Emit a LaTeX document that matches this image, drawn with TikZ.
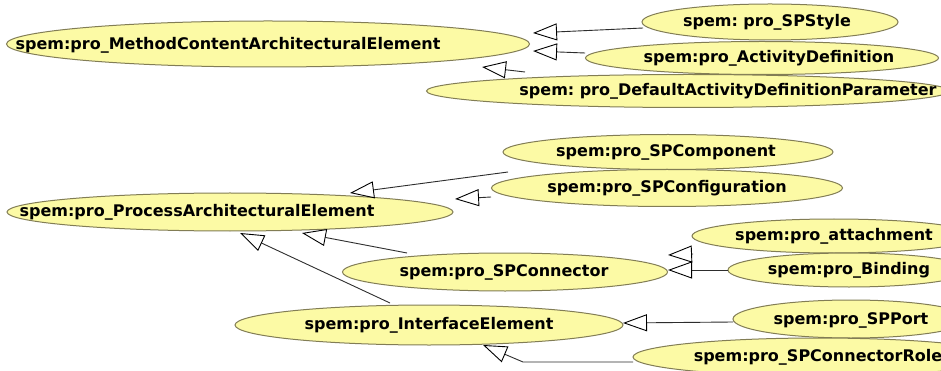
\documentclass[tikz,border=0pt]{standalone}
\usepackage{fontspec}
\setmainfont{DejaVu Sans}
\usetikzlibrary{arrows.meta,shapes.geometric}
\definecolor{clsfill}{RGB}{252,250,165}
\definecolor{clsline}{RGB}{130,125,85}
\definecolor{edgeline}{RGB}{45,45,45}
\tikzset{
  cls/.style={ellipse, draw=clsline, fill=clsfill, line width=1pt, inner sep=0pt},
  lbl/.style={font=\fontsize{16}{19}\selectfont\bfseries, inner sep=0pt, text=black},
  gen/.style={draw=edgeline, line width=0.9pt, -{Triangle[open, length=24pt, width=17pt, color=black]}},
}
\begin{document}
\begin{tikzpicture}[x=1pt,y=-1pt]
\useasboundingbox (0,0) rectangle (941,371);
\fill[white] (0,0) rectangle (941,371);
\clip (0,0) rectangle (941,371);

% ellipses
\node[cls, minimum width=523pt, minimum height=46pt] (mcae) at (268,44) {};
\node[cls, minimum width=256pt, minimum height=36pt] (style) at (770,22) {};
\node[cls, minimum width=353pt, minimum height=33pt] (actdef) at (762,58) {};
\node[cls, minimum width=523pt, minimum height=33pt] (defpar) at (688,91) {};
\node[cls, minimum width=330pt, minimum height=35pt] (comp) at (668,152) {};
\node[cls, minimum width=351pt, minimum height=37pt] (config) at (667,188) {};
\node[cls, minimum width=446pt, minimum height=38pt] (pae) at (230,212) {};
\node[cls, minimum width=284pt, minimum height=34pt] (attach) at (834,236) {};
\node[cls, minimum width=242pt, minimum height=34pt] (binding) at (849,270) {};
\node[cls, minimum width=325pt, minimum height=38pt] (conn) at (505,272) {};
\node[cls, minimum width=388pt, minimum height=40pt] (iface) at (429,325) {};
\node[cls, minimum width=236pt, minimum height=38pt] (port) at (851,319) {};
\node[cls, minimum width=370pt, minimum height=38pt] (role) at (818,357) {};

% labels
\node[lbl] (mcae-t) at (228,45) {spem:pro\_MethodContentArchitecturalElement};
\node[lbl] (style-t) at (767,22) {spem:\hspace{-2pt} pro\_SPStyle};
\node[lbl] (actdef-t) at (769,58) {spem:pro\_ActivityDefinition};
\node[lbl] (defpar-t) at (728,91) {spem:\hspace{-2pt} pro\_DefaultActivityDefinitionParameter};
\node[lbl] (comp-t) at (666,152) {spem:pro\_SPComponent};
\node[lbl] (config-t) at (667,188) {spem:pro\_SPConfiguration};
\node[lbl] (pae-t) at (197,212) {spem:pro\_ProcessArchitecturalElement};
\node[lbl] (attach-t) at (834,236) {spem:pro\_attachment};
\node[lbl] (binding-t) at (849,270) {spem:pro\_Binding};
\node[lbl] (conn-t) at (504,272) {spem:pro\_SPConnector};
\node[lbl] (iface-t) at (429,325) {spem:pro\_InterfaceElement};
\node[lbl] (port-t) at (851,320) {spem:pro\_SPPort};
\node[lbl] (role-t) at (818,357) {spem:pro\_SPConnectorRole};

% connector end points
\coordinate (sA) at (643,28);  \coordinate (tA) at (533,33);
\coordinate (sB) at (585,53);  \coordinate (tB) at (533,51);
\coordinate (sC) at (525,72);  \coordinate (tC) at (482,67);
\coordinate (sD) at (508,172); \coordinate (tD) at (350,193);
\coordinate (sE) at (491,197); \coordinate (tE) at (455,199);
\coordinate (sF) at (407,253); \coordinate (tF) at (302,233);
\coordinate (sG) at (390,303); \coordinate (tG) at (240,233);
\coordinate (sH) at (693,254); \coordinate (tH) at (668,255);
\coordinate (sI) at (728,270); \coordinate (tI) at (668,270);
\coordinate (sJ) at (733,322); \coordinate (tJ) at (623,323);
\coordinate (sK) at (633,362); \coordinate (kK) at (523,362); \coordinate (tK) at (483,345);

% generalisations
\draw[gen] (sA) -- (tA);
\draw[gen] (sB) -- (tB);
\draw[gen] (sC) -- (tC);
\draw[gen] (sD) -- (tD);
\draw[gen] (sE) -- (tE);
\draw[gen] (sF) -- (tF);
\draw[gen] (sG) -- (tG);
\draw[gen] (sH) -- (tH);
\draw[gen] (sI) -- (tI);
\draw[gen] (sJ) -- (tJ);
\draw[gen] (sK) -- (kK) -- (tK);
\end{tikzpicture}
\end{document}
